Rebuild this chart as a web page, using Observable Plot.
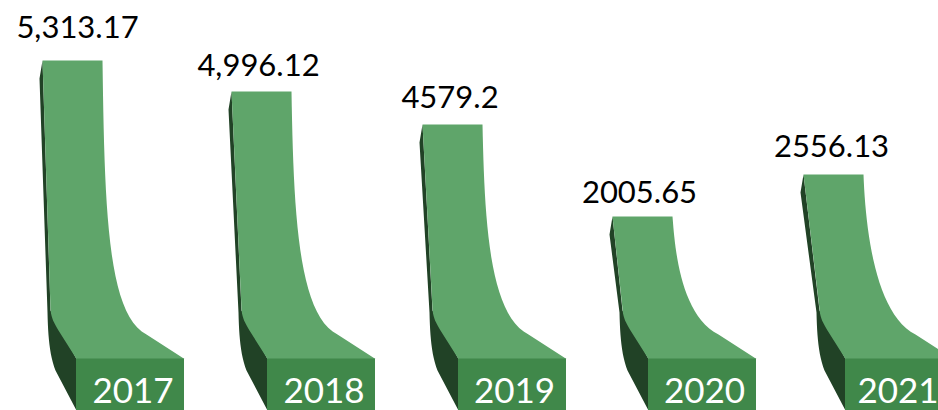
<!DOCTYPE html>
<html>
<head>
<meta charset="utf-8">
<script src="https://cdn.jsdelivr.net/npm/d3@7"></script>
<script src="https://cdn.jsdelivr.net/npm/@observablehq/plot@0.6"></script>
<style>
html,body{margin:0;padding:0;background:#fff;overflow:hidden}
#chart{width:938px;height:410px;overflow:hidden}
svg{display:block}
</style>
</head>
<body>
<div id="chart"></div>
<script>
// Data
const years = ["2017", "2018", "2019", "2020", "2021"];
const valueLabels = ["5,313.17", "4,996.12", "4579.2", "2005.65", "2556.13"];
// Drawn height of each column above the chart's bottom edge (the picture is not to scale with its labels)
const drawnHeights = [350, 319, 286, 194, 236];

// Layout (chart units = picture units)
const frontLeft = [76, 267, 458, 648, 845];
const labelCenter = [77, 258, 449.5, 639, 831];
const labelBaseline = [373, 335, 303, 208, 254];
const yearCenter = [132.5, 323.5, 514, 704, 897.5];
const W = 938, H = 410, floor = 51.5, frontW = 108;

const bez = (p0, p1, p2, p3, n = 24) => d3.range(n + 1).map(i => {
  const t = i / n, u = 1 - t;
  return [0, 1].map(k => u*u*u*p0[k] + 3*u*u*t*p1[k] + 3*u*t*t*p2[k] + t*t*t*p3[k]);
});

const topOffset = i => i === 4 ? -42 : i === 0 ? -34 : -36;

const lightFace = years.flatMap((yr, i) => {
  const L = frontLeft[i], T = drawnHeights[i], o = topOffset(i);
  const pts = [
    [L + o, T],
    [L + o + 60, T],
    ...bez([L + o + 60, T], [L + o + 62, 170 + (T - 194) * 0.25],
           [L + 30, 96], [L + 70, 76]),
    [L + frontW, floor],
    [L, floor],
    [L - 18, 80],
    ...bez([L - 18, 80], [L - 22, 87], [L - 25.5, 92], [L - 26, 102], 10)
  ];
  return pts.map(([x, y]) => ({year: yr, x, y}));
});

const darkSide = years.flatMap((yr, i) => {
  const L = frontLeft[i], T = drawnHeights[i], o = topOffset(i);
  const pts = [
    [L + o, T],
    [L + o - 3, T - 18],
    [L - 29, 98],
    ...bez([L - 29, 98], [L - 28.5, 75], [L - 27, 55], [L - 21, 40], 12),
    [L, 0],
    [L, floor],
    [L - 26, 100]
  ];
  return pts.map(([x, y]) => ({year: yr, x, y}));
});

const fronts = years.map((yr, i) => ({year: yr, x1: frontLeft[i], x2: frontLeft[i] + frontW}));
const yearText = years.map((t, i) => ({t, x: yearCenter[i]}));
const valueText = valueLabels.map((t, i) => ({t, x: labelCenter[i], y: labelBaseline[i]}));

const chart = Plot.plot({
  width: W, height: H,
  marginLeft: 0, marginRight: 0, marginTop: 0, marginBottom: 0,
  x: {type: "linear", domain: [0, W], range: [0, W], axis: null},
  y: {type: "linear", domain: [0, H], range: [H, 0], axis: null},
  style: {background: "#fff"},
  marks: [
    Plot.line(darkSide, {x: "x", y: "y", z: "year", fill: "#214226", stroke: "none", curve: "linear-closed"}),
    Plot.line(lightFace, {x: "x", y: "y", z: "year", fill: "#5FA56A", stroke: "none", curve: "linear-closed"}),
    Plot.rect(fronts, {x1: "x1", x2: "x2", y1: 0, y2: floor, fill: "#40884A"}),
    Plot.text(yearText, {x: "x", y: 8, text: "t", fill: "#fff", fontSize: 35, fontFamily: "Lato", lineAnchor: "bottom", textAnchor: "middle"}),
    Plot.text(valueText, {x: "x", y: "y", text: "t", fill: "#000", fontSize: 31, fontFamily: "Lato", lineAnchor: "bottom", textAnchor: "middle"})
  ]
});
document.getElementById("chart").appendChild(chart);
</script>
</body>
</html>
